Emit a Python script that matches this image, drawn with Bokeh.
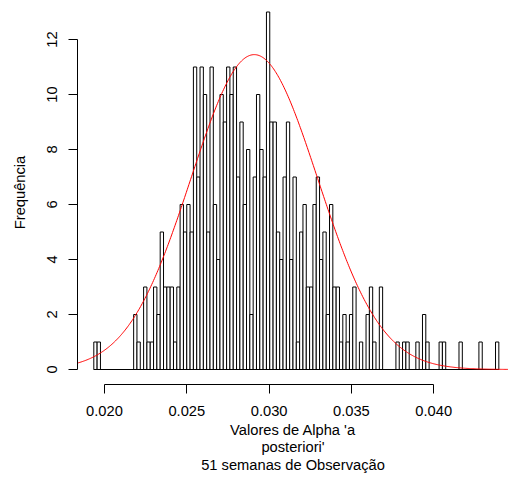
import numpy as np
from bokeh.plotting import figure
from bokeh.models import Range1d, FixedTicker, NumeralTickFormatter, ColumnDataSource
from bokeh.embed import file_html
from bokeh.resources import INLINE

# ---- data ----
bin_start = 0.01935
bin_width = 0.0002017
counts = [
    1, 1, 0, 0, 0, 0, 0, 0, 0, 0,        # 0-9
    0, 0, 2, 1, 0, 3, 1, 1, 3, 2,        # 10-19
    5, 3, 3, 3, 1, 3, 6, 5, 6, 5,        # 20-29
    11, 7, 11, 10, 5, 11, 6, 4, 10, 9,   # 30-39
    11, 10, 11, 7, 9, 6, 8, 2, 7, 10,    # 40-49
    8, 7, 13, 9, 9, 5, 4, 7, 9, 4,       # 50-59
    7, 1, 5, 6, 3, 3, 6, 7, 4, 5,        # 60-69
    2, 6, 3, 3, 1, 2, 1, 2, 3, 0,        # 70-79
    1, 0, 2, 3, 1, 0, 3, 0, 0, 0,        # 80-89
    0, 1, 0, 1, 1, 0, 0, 1, 0, 2,        # 90-99
    1, 0, 0, 0, 1, 1, 0, 0, 0, 0,        # 100-109
    1, 0, 0, 0, 0, 0, 1, 0, 0, 0,        # 110-119
    0, 1,                                # 120-121
]
x_ticks = [0.020, 0.025, 0.030, 0.035, 0.040]
y_ticks = [0, 2, 4, 6, 8, 10, 12]
curve_mean = 0.0291
curve_sd = 0.00385
curve_peak = 11.45
x_title = "Valores de Alpha 'a\nposteriori'\n51 semanas de Observação"
y_title = "Frequência"

# ---- layout ----
W, H = 508, 477
FRAME_LEFT, FRAME_BOTTOM = 77, 384
PX_PER_X = 16460.0       # pixels per unit of x
PX_PER_Y = 27.5          # pixels per count
ZERO_PX_X = 104 - 0.020 * PX_PER_X
ZERO_PX_Y = 369
x0 = (FRAME_LEFT - ZERO_PX_X) / PX_PER_X
x1 = (W - ZERO_PX_X) / PX_PER_X
y0 = -(FRAME_BOTTOM - ZERO_PX_Y) / PX_PER_Y
y1 = ZERO_PX_Y / PX_PER_Y

FONT = "Liberation Sans"
FS = "14.7px"

p = figure(width=W, height=H, x_range=Range1d(x0, x1), y_range=Range1d(y0, y1),
           output_backend="svg", toolbar_location=None,
           min_border_left=FRAME_LEFT, min_border_right=0, min_border_top=0,
           min_border_bottom=H - FRAME_BOTTOM)
p.outline_line_color = None
p.xgrid.visible = False
p.ygrid.visible = False
p.background_fill_color = "white"
p.border_fill_color = "white"

lefts = [bin_start + i * bin_width for i in range(len(counts))]
rights = [l + bin_width for l in lefts]
src = ColumnDataSource(dict(left=lefts, right=rights, top=counts, bottom=[0] * len(counts)))
p.quad(left="left", right="right", top="top", bottom="bottom", source=src,
       fill_color="white", line_color="black", line_width=1)
p.segment(x0=[lefts[0]], y0=[0], x1=[rights[-1]], y1=[0], line_color="black", line_width=1)

xs = np.linspace(x0, x1, 500)
ys = curve_peak * np.exp(-0.5 * ((xs - curve_mean) / curve_sd) ** 2)
p.line(xs, ys, line_color="red", line_width=1)

xa = p.xaxis[0]
xa.ticker = FixedTicker(ticks=x_ticks)
xa.formatter = NumeralTickFormatter(format="0.000")
xa.bounds = (x_ticks[0], x_ticks[-1])
xa.major_tick_out = 9
xa.major_tick_in = 0
xa.minor_tick_line_color = None
xa.axis_line_color = "black"
xa.major_tick_line_color = "black"
xa.major_label_text_font = FONT
xa.major_label_text_font_size = FS
xa.major_label_text_color = "black"
xa.major_label_standoff = 12
xa.axis_label = x_title
xa.axis_label_text_font = FONT
xa.axis_label_text_font_size = FS
xa.axis_label_text_font_style = "normal"
xa.axis_label_text_color = "black"
xa.axis_label_text_line_height = 1.12
xa.axis_label_standoff = 3

ya = p.yaxis[0]
ya.ticker = FixedTicker(ticks=y_ticks)
ya.bounds = (y_ticks[0], y_ticks[-1])
ya.major_tick_out = 9
ya.major_tick_in = 0
ya.minor_tick_line_color = None
ya.axis_line_color = "black"
ya.major_tick_line_color = "black"
ya.major_label_orientation = "vertical"
ya.major_label_text_font = FONT
ya.major_label_text_font_size = FS
ya.major_label_text_color = "black"
ya.major_label_standoff = 12
ya.axis_label = y_title
ya.axis_label_text_font = FONT
ya.axis_label_text_font_size = FS
ya.axis_label_text_font_style = "normal"
ya.axis_label_text_color = "black"
ya.axis_label_standoff = 16

open("out.html", "w").write(file_html(p, INLINE))
